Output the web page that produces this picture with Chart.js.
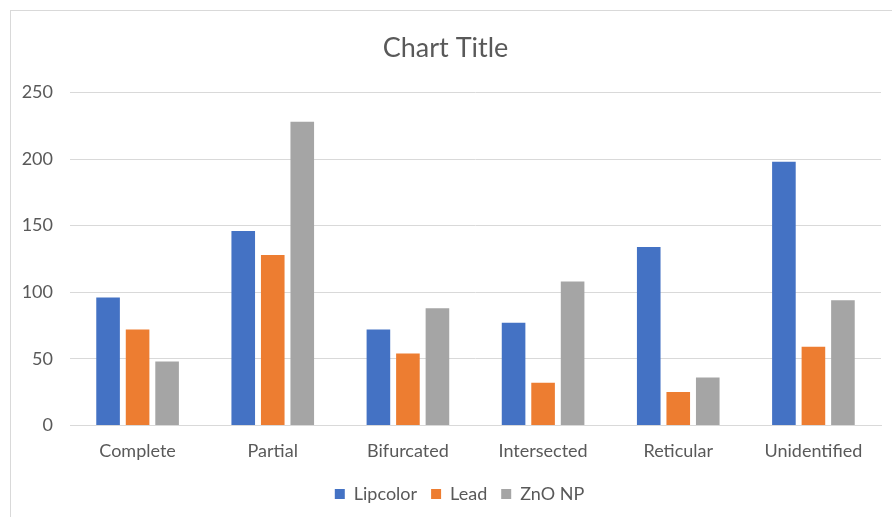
<!DOCTYPE html>
<html>
<head>
<meta charset="utf-8">
<script src="https://cdn.jsdelivr.net/npm/chart.js@4"></script>
<style>
  html, body { margin: 0; padding: 0; background: #fff; }
  #wrap { position: relative; width: 892px; height: 517px; overflow: hidden; }
  #frame { position: absolute; left: 10px; top: 10px; width: 900px; height: 520px; border-left: 1px solid #d9d9d9; border-top: 1px solid #d9d9d9; }
  canvas { position: absolute; left: 0; top: 0; }
</style>
</head>
<body>
<div id="wrap">
  <div id="frame"></div>
  <canvas id="chart" width="892" height="517"></canvas>
</div>
<script>
// data
const categories = ['Complete', 'Partial', 'Bifurcated', 'Intersected', 'Reticular', 'Unidentified'];
const lipcolor = [96, 146, 72, 77, 134, 198];
const lead = [72, 128, 54, 32, 25, 59];
const znoNp = [48, 228, 88, 108, 36, 94];
const yTicks = [0, 50, 100, 150, 200, 250];

const textColor = '#595959';
const fontFamily = 'Lato, "Open Sans", sans-serif';

// nudge the legend a bit right, like the original
const legendShift = {
    id: 'legendShift',
    afterLayout: function(chart) {
        chart.legend.left += 14;
        chart.legend.right += 14;
    }
};

const ctx = document.getElementById('chart').getContext('2d');
const chart = new Chart(ctx, {
    type: 'bar',
    data: {
        labels: categories,
        datasets: [
            { label: 'Lipcolor', data: lipcolor, backgroundColor: '#4472C4' },
            { label: 'Lead', data: lead, backgroundColor: '#ED7D31' },
            { label: 'ZnO NP', data: znoNp, backgroundColor: '#A5A5A5' }
        ]
    },
    plugins: [legendShift],
    options: {
        responsive: false,
        animation: false,
        devicePixelRatio: 1,
        datasets: {
            bar: { categoryPercentage: 0.655, barPercentage: 0.8 }
        },
        layout: { padding: { left: 10, right: 11, top: 32, bottom: 4 } },
        plugins: {
            title: {
                display: true,
                text: 'Chart Title',
                color: textColor,
                font: { family: fontFamily, size: 27, weight: 'normal' },
                padding: { top: 0, bottom: 28 }
            },
            legend: {
                position: 'bottom',
                labels: {
                    color: textColor,
                    font: { family: fontFamily, size: 18 },
                    boxWidth: 10,
                    boxHeight: 10,
                    padding: 14
                }
            },
            tooltip: { enabled: false }
        },
        scales: {
            x: {
                afterFit: function(scale) { scale.height -= 6; },
                grid: { display: false, drawTicks: false },
                border: { color: '#d9d9d9' },
                ticks: {
                    color: textColor,
                    font: { family: fontFamily, size: 18 },
                    padding: 15
                }
            },
            y: {
                min: 0,
                max: 250,
                afterFit: function(scale) { scale.width = 60; },
                afterBuildTicks: function(scale) {
                    scale.ticks = yTicks.map(v => ({ value: v }));
                },
                grid: { color: '#d9d9d9', drawTicks: false },
                border: { display: false },
                ticks: {
                    color: textColor,
                    font: { family: fontFamily, size: 18 },
                    padding: 17
                }
            }
        }
    }
});
</script>
</body>
</html>
